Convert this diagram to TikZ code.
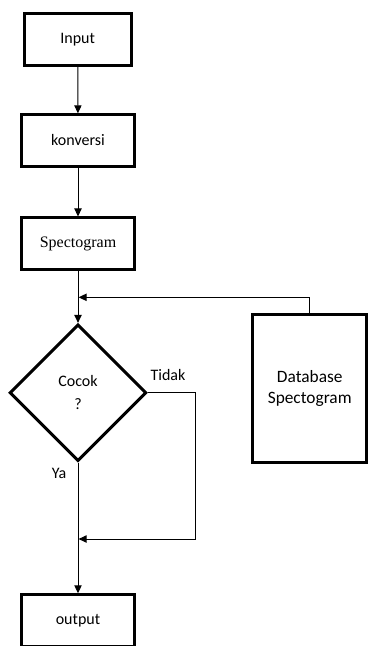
\documentclass[tikz,border=0pt]{standalone}
\usepackage{fontspec}
\setmainfont{Carlito}
\newfontfamily\seriffont{Liberation Serif}
\usetikzlibrary{shapes.geometric,arrows.meta}

\begin{document}
\begin{tikzpicture}[x=0.75pt,y=-0.75pt,
  kotak/.style={draw,line width=2.25pt,minimum width=85.2pt,minimum height=38.6pt,inner sep=0pt,font=\fontsize{12}{14}\selectfont},
  belah/.style={draw,diamond,line width=2.25pt,minimum width=102.6pt,minimum height=102.6pt,inner sep=0pt,align=center,font=\fontsize{12}{17.3}\selectfont},
  panah/.style={line width=0.75pt,-{Triangle[width=5.5pt,length=6pt]}},
  garis/.style={line width=0.75pt},
  teks/.style={font=\fontsize{12}{14}\selectfont}]
\clip (0,0) rectangle (368,646);

\node[kotak,minimum width=80.2pt] (input) at (77.7,39.3) {Input};
\node[kotak] (konversi) at (78,140.5) {konversi};
\node[kotak,font=\seriffont\fontsize{12}{14}\selectfont] (spect) at (78,243.7) {Spectogram};
\node[belah] (cocok) at (78,392.8) {Cocok\\?};
\node[kotak,minimum height=111pt,align=center,font=\fontsize{13}{15.8}\selectfont] (db) at (309.7,388.3) {Database\\Spectogram};
\node[kotak] (output) at (78,620.5) {output};

\node[teks] (tidak) at (168,375) {Tidak};
\node[teks] (ya) at (59,473) {Ya};

\coordinate (m1) at (78.6,297.3);
\coordinate (m2) at (78.6,539);

\draw[panah] (input) -- (konversi);
\draw[panah] (konversi) -- (spect);
\draw[panah] (spect) -- (cocok);
\draw[panah] (db.north) |- (m1);
\draw[panah] (cocok.east) -- (195,392.8) |- (m2);
\draw[panah] (cocok.south) -- (output.north);

\end{tikzpicture}
\end{document}
